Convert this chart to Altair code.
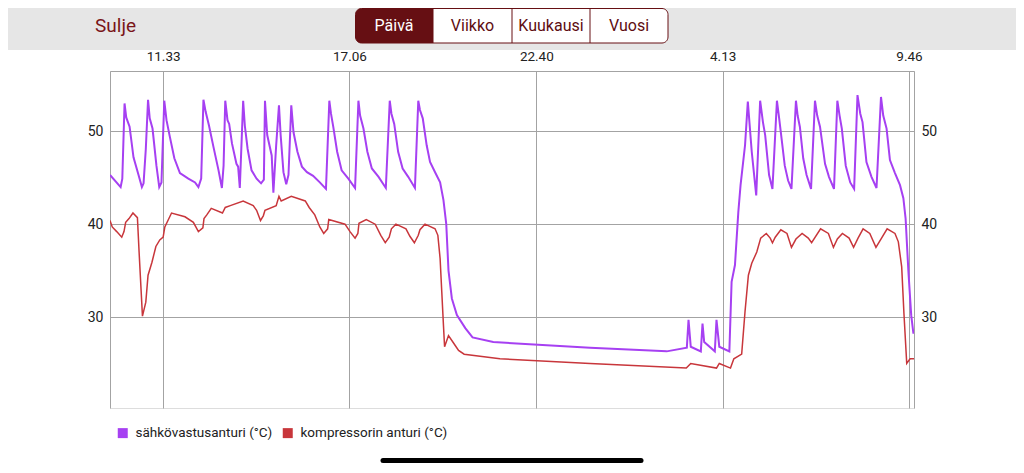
import altair as alt
import pandas as pd

# ---- data (time = minutes since 00:00 of the first day, value = °C) ----
purple_t = [598, 617, 620, 624, 627, 633, 640, 649, 655, 658, 662, 666, 669, 674, 681, 686, 690, 695, 699, 705,
            713, 723, 738, 750, 756, 761, 765, 769, 775, 783, 792, 798, 801, 804, 808, 811, 816, 824, 827, 830,
            836, 839, 844, 851, 860, 868, 873, 875, 879, 887, 890, 895, 900, 903, 908, 913, 917, 922, 926, 933,
            941, 950, 961, 973, 984, 990, 993, 997, 1004, 1012, 1024, 1036, 1042, 1045, 1051, 1058, 1066, 1078,
            1091, 1098, 1101, 1106, 1113, 1121, 1131, 1143, 1149, 1152, 1157, 1164, 1170, 1179, 1188, 1194, 1199,
            1203, 1209, 1218, 1233, 1246, 1283, 1456, 1593, 1629, 1632, 1636, 1654, 1657, 1660, 1679, 1682, 1687,
            1705, 1709, 1715, 1721, 1725, 1733, 1738, 1745, 1753, 1760, 1765, 1769, 1776, 1782, 1790, 1794, 1797,
            1804, 1810, 1816, 1824, 1827, 1831, 1837, 1843, 1851, 1858, 1862, 1867, 1876, 1883, 1892, 1898, 1902,
            1906, 1913, 1921, 1928, 1934, 1939, 1943, 1950, 1959, 1968, 1976, 1980, 1986, 1992, 2001, 2010, 2016,
            2020, 2025, 2030, 2034]
purple_v = [45.3, 44.0, 44.9, 53.0, 51.5, 50.5, 47.2, 45.3, 44.0, 44.4, 48.1, 53.4, 51.4, 50.3, 46.3, 44.0, 44.5,
            53.3, 51.2, 49.4, 47.1, 45.5, 44.9, 44.5, 44.0, 44.9, 53.4, 52.1, 50.6, 48.3, 45.8, 43.9, 46.3, 53.3,
            51.2, 50.8, 48.7, 46.5, 46.2, 43.9, 53.3, 50.6, 48.1, 45.8, 44.9, 44.4, 44.8, 53.3, 49.6, 47.4, 43.4,
            48.5, 52.8, 49.6, 45.6, 44.3, 45.3, 52.8, 49.9, 47.8, 46.2, 45.6, 45.2, 44.5, 43.8, 53.3, 51.9, 50.5,
            47.8, 45.8, 44.9, 43.9, 53.3, 51.7, 50.3, 47.8, 46.0, 45.1, 43.9, 53.3, 51.9, 50.8, 47.8, 46.0, 45.1,
            43.9, 53.3, 52.3, 51.4, 48.5, 46.7, 45.6, 44.5, 42.6, 40.0, 35.0, 32.0, 30.2, 28.8, 27.8, 27.3, 26.7,
            26.3, 26.7, 29.7, 26.8, 26.3, 29.3, 27.3, 26.3, 29.7, 26.8, 26.3, 33.8, 35.6, 41.3, 44.2, 48.5, 53.2,
            47.8, 43.1, 53.3, 51.0, 49.6, 45.3, 43.8, 53.3, 51.4, 49.9, 46.3, 44.7, 43.8, 53.3, 51.7, 50.5, 47.1,
            45.3, 43.8, 53.3, 51.7, 50.5, 46.5, 45.1, 43.8, 53.3, 51.7, 50.3, 46.3, 44.5, 43.8, 53.9, 51.9, 51.0,
            46.7, 45.1, 43.9, 53.7, 51.7, 50.3, 46.9, 45.5, 44.2, 42.8, 40.6, 34.9, 30.2, 28.2]

red_t = [598, 602, 610, 619, 623, 626, 632, 639, 647, 650, 656, 662, 666, 673, 680, 687, 693, 696, 708, 732,
         747, 756, 764, 766, 771, 779, 799, 804, 813, 836, 854, 860, 867, 872, 875, 895, 900, 904, 922, 947,
         954, 964, 973, 980, 987, 989, 1018, 1027, 1036, 1041, 1043, 1056, 1072, 1082, 1090, 1097, 1101, 1109,
         1127, 1134, 1142, 1149, 1152, 1161, 1179, 1184, 1188, 1191, 1194, 1196, 1203, 1212, 1221, 1231, 1295,
         1456, 1628, 1636, 1682, 1687, 1707, 1713, 1727, 1733, 1739, 1745, 1754, 1761, 1771, 1778, 1782, 1787,
         1797, 1808, 1816, 1824, 1835, 1846, 1852, 1868, 1882, 1891, 1898, 1907, 1919, 1927, 1935, 1944, 1956,
         1967, 1977, 1987, 2001, 2007, 2013, 2017, 2022, 2028, 2035]
red_v = [40.4, 39.7, 39.2, 38.6, 39.2, 40.2, 40.6, 41.2, 40.7, 37.0, 30.1, 31.6, 34.5, 35.9, 37.6, 38.3, 38.6,
         39.7, 41.2, 40.8, 40.2, 39.2, 39.6, 40.6, 41.0, 41.7, 41.2, 41.8, 42.0, 42.5, 42.0, 41.5, 40.4, 40.9,
         41.5, 42.0, 43.0, 42.5, 43.0, 42.5, 41.8, 41.0, 39.7, 39.0, 39.5, 40.5, 40.0, 39.2, 38.5, 39.0, 40.1,
         40.5, 40.0, 38.8, 38.0, 38.6, 39.5, 40.0, 39.5, 38.7, 38.0, 38.8, 39.4, 40.0, 39.5, 38.8, 36.3, 32.7,
         29.1, 26.8, 28.0, 27.2, 26.4, 26.0, 25.5, 25.0, 24.5, 25.0, 24.5, 25.0, 24.5, 25.5, 26.0, 30.6, 34.5,
         35.8, 37.0, 38.5, 39.0, 38.5, 38.0, 38.6, 39.4, 39.0, 37.5, 38.4, 39.0, 38.5, 38.0, 39.5, 39.0, 37.5,
         38.4, 39.0, 38.5, 37.5, 38.5, 39.5, 39.0, 37.5, 38.5, 39.5, 39.0, 38.1, 35.4, 30.4, 25.0, 25.5, 25.5]

series_names = ["sähkövastusanturi (°C)", "kompressorin anturi (°C)"]
series_colors = ["#a640f2", "#c8363b"]
tick_times = [693, 1026, 1360, 1693, 2026]
tick_labels = ["11.33", "17.06", "22.40", "4.13", "9.46"]
y_ticks = [30, 40, 50]
tabs = ["Päivä", "Viikko", "Kuukausi", "Vuosi"]

# ---- build table ----
df = pd.concat([
    pd.DataFrame({"t": purple_t, "v": purple_v, "series": series_names[0]}),
    pd.DataFrame({"t": red_t, "v": red_v, "series": series_names[1]}),
], ignore_index=True)

W, H = 804, 337
FONT = "Roboto"
GRID = "#a3a3a3"
DARKRED = "#660f13"
TXT = "#5e0d11"

label_expr = " : ".join(
    f"datum.value == {t} ? '{l}'" for t, l in zip(tick_times, tick_labels)
) + " : ''"

xscale = alt.Scale(domain=[598, 2035], nice=False, zero=False)
yscale = alt.Scale(domain=[20.2, 56.5], nice=False, zero=False)
cscale = alt.Scale(domain=series_names, range=series_colors)

legend = alt.Legend(orient="none", legendX=6, legendY=355, direction="horizontal",
                    title=None, symbolType="square", symbolSize=25,
                    symbolStrokeWidth=5, labelFontSize=13.5, labelColor="#222",
                    labelFont=FONT, labelOffset=6, columnPadding=2,
                    labelLimit=400, padding=0)

x_enc = alt.X("t:Q", scale=xscale,
              axis=alt.Axis(orient="top", values=tick_times, labelExpr=label_expr, title=None,
                            grid=True, gridColor=GRID, gridWidth=1, ticks=False, domain=True,
                            domainColor=GRID, labelPadding=8, labelFontSize=13.5, labelColor="#222",
                            labelFont=FONT))
y_enc = alt.Y("v:Q", scale=yscale,
              axis=alt.Axis(orient="left", values=y_ticks, title=None, grid=True, gridColor=GRID,
                            gridWidth=1, ticks=False, domain=True, domainColor=GRID, labelPadding=7,
                            labelFontSize=14, labelColor="#222", labelFont=FONT))

line_red = alt.Chart(df).transform_filter(
    alt.datum.series == series_names[1]
).mark_line(strokeWidth=1.5, clip=True).encode(
    x=x_enc, y=y_enc, color=alt.Color("series:N", scale=cscale, legend=legend))

line_purple = alt.Chart(df).transform_filter(
    alt.datum.series == series_names[0]
).mark_line(strokeWidth=2, clip=True).encode(
    x=alt.X("t:Q", scale=xscale),
    y=alt.Y("v:Q", scale=yscale, axis=None),
    color=alt.Color("series:N", scale=cscale, legend=legend))

right_axis = alt.Chart(df).mark_line(opacity=0).encode(
    x=alt.X("t:Q", scale=xscale),
    y=alt.Y("v:Q", scale=yscale,
            axis=alt.Axis(orient="right", values=y_ticks, title=None, grid=False, ticks=False,
                          domain=True, domainColor=GRID, labelPadding=7, labelFontSize=14,
                          labelColor="#222", labelFont=FONT)),
    detail="series:N",
)

one = pd.DataFrame({"a": [0]})

header = alt.Chart(one).mark_rect(color="#e6e6e6").encode(
    x=alt.value(-110), x2=alt.value(910), y=alt.value(-72), y2=alt.value(-21))

sulje = alt.Chart(one).mark_text(text="Sulje", fontSize=19, font=FONT, color="#7a1519",
                                 align="left", baseline="middle").encode(
    x=alt.value(-15), y=alt.value(-45))

seg_box = alt.Chart(one).mark_rect(fill="white", stroke=DARKRED, strokeWidth=1,
                                   cornerRadius=6).encode(
    x=alt.value(245.5), x2=alt.value(558), y=alt.value(-62.5), y2=alt.value(-28))

seg_sel = alt.Chart(one).mark_rect(fill=DARKRED, cornerRadiusTopLeft=6,
                                   cornerRadiusBottomLeft=6).encode(
    x=alt.value(245.5), x2=alt.value(323), y=alt.value(-62.5), y2=alt.value(-28))

divider_px = [323, 402, 480]
dividers = [
    alt.Chart(one).mark_rule(color=DARKRED, strokeWidth=1).encode(
        x=alt.value(px), y=alt.value(-62.5), y2=alt.value(-28))
    for px in divider_px
]

tab_centers = [284, 362.5, 441, 519]
tab_text = [
    alt.Chart(one).mark_text(text=name, fontSize=16, font=FONT, baseline="middle", align="center",
                             color=("white" if i == 0 else TXT)).encode(
        x=alt.value(cx), y=alt.value(-45))
    for i, (name, cx) in enumerate(zip(tabs, tab_centers))
]

home = alt.Chart(one).mark_rule(color="black", strokeWidth=5, strokeCap="round").encode(
    x=alt.value(273), x2=alt.value(531), y=alt.value(389.5))

chart = alt.layer(
    line_red, line_purple, right_axis, header, sulje, seg_box, seg_sel, *dividers, *tab_text, home
).resolve_scale(y="independent").properties(
    width=W, height=H,
    autosize=alt.AutoSizeParams(type="none"),
    padding={"left": 102, "top": 63, "right": 102, "bottom": 55},
).configure_view(stroke=None).configure(font=FONT)

chart.save("out.html", embed_options={"renderer": "svg", "actions": False})
